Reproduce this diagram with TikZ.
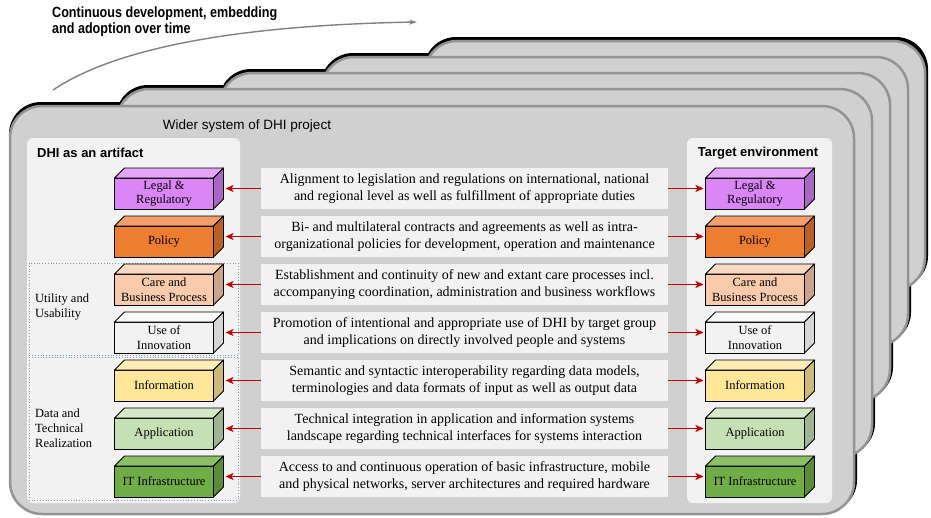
\documentclass[tikz,border=0pt]{standalone}
\usepackage{fontspec}
\setmainfont{Liberation Serif}
\setsansfont{Liberation Sans}
\newfontfamily\topfont[FakeStretch=0.85]{Liberation Sans}
\usetikzlibrary{arrows.meta,calc}
\definecolor{layergray}{HTML}{D0D0D0}
\definecolor{edgegray}{HTML}{949494}
\definecolor{panelc}{HTML}{F2F2F2}
\definecolor{arrowred}{HTML}{C00000}
\definecolor{grpc}{HTML}{8497B0}
\definecolor{legalF}{RGB}{218,134,246}
\definecolor{legalT}{RGB}{229,164,250}
\definecolor{legalS}{RGB}{170,102,196}
\definecolor{policyF}{HTML}{ED7D31}
\definecolor{policyT}{HTML}{F1A06B}
\definecolor{policyS}{HTML}{BA6226}
\definecolor{careF}{HTML}{F8CBAD}
\definecolor{careT}{HTML}{FAD8C2}
\definecolor{careS}{HTML}{C9A38B}
\definecolor{useF}{HTML}{F2F2F2}
\definecolor{useT}{HTML}{FAFAFA}
\definecolor{useS}{HTML}{D6D6D6}
\definecolor{infoF}{HTML}{FFE699}
\definecolor{infoT}{HTML}{FFEDB5}
\definecolor{infoS}{HTML}{CDB97A}
\definecolor{appF}{HTML}{C5E0B4}
\definecolor{appT}{HTML}{D5E9C8}
\definecolor{appS}{HTML}{A0B594}
\definecolor{itF}{HTML}{70AD47}
\definecolor{itT}{HTML}{8CC068}
\definecolor{itS}{HTML}{5A8C39}
\tikzset{
  cubefront/.style={draw=black, line width=0.8pt, minimum width=99pt, minimum height=31pt,
    inner sep=0pt, outer sep=0pt, align=center, font=\fontsize{12.5}{14.5}\selectfont},
  cubeedge/.style={draw=black, line width=0.8pt, line join=round},
  tbox/.style={fill=panelc, minimum width=407pt, minimum height=41pt, inner sep=0pt,
    outer sep=0pt, align=center, font=\fontsize{14}{17}\selectfont},
  redarrow/.style={draw=arrowred, line width=1.5pt, -{Stealth[length=8pt,width=7pt,inset=2pt]}, shorten >=2pt},
  grp/.style={draw=grpc, dotted, line width=0.8pt},
  lab/.style={anchor=west, align=left, inner sep=0pt, font=\fontsize{12.5}{15}\selectfont},
  ptitle/.style={inner sep=0pt, font=\sffamily\bfseries\fontsize{13}{15}\selectfont}
}
\newcommand\mycube[7]{%
  \node[cubefront, fill=#4] (#1) at (#2,#3) {#7};
  \draw[cubeedge, fill=#5] (#1.north west) -- ++(10,-10) -- ++(99,0) -- (#1.north east) -- cycle;
  \draw[cubeedge, fill=#6] (#1.north east) -- ++(10,-10) -- ++(0,31) -- (#1.south east) -- cycle;
}
\begin{document}
\begin{tikzpicture}[x=1pt,y=-1pt]
\useasboundingbox (0,0) rectangle (931,517);
% stacked layers: shadow first
\foreach \a/\b/\c/\d in {425/41/925/290, 322/57/908/346, 220/73/890/401, 117/89/872/457, 10/106/854/514}{
  \fill[black, rounded corners=32pt] (\a-1,\b-4) rectangle (\c+3,\d-2);
}
\foreach \a/\b/\c/\d in {425/41/925/290, 322/57/908/346, 220/73/890/401, 117/89/872/457, 10/106/854/514}{
  \filldraw[fill=layergray, draw=edgegray, line width=2.5pt, rounded corners=32pt] (\a,\b) rectangle (\c,\d);
}
% time arrow
\coordinate (as) at (53,90);
\coordinate (ae) at (417,22);
\draw[draw=gray, line width=1.4pt, -{Stealth[length=8pt,width=5pt]}] (as) .. controls (120,45) and (250,25) .. (ae);
\node[anchor=north west, align=left, inner sep=0pt, font=\topfont\bfseries\fontsize{14.8}{16}\selectfont] (ttl) at (52,7)
  {Continuous development, embedding\\and adoption over time};
% panels
\fill[panelc, rounded corners=6pt] (27,138) rectangle (240,503);
\fill[panelc, rounded corners=6pt] (687,138) rectangle (832,503);
\node[inner sep=0pt, font=\sffamily\fontsize{13.5}{16}\selectfont] (wider) at (247,126) {Wider system of DHI project};
\node[ptitle, anchor=west] (art) at (37,153) {DHI as an artifact};
\node[ptitle] (tenv) at (758,153) {Target environment};
% groups
\draw[grp] (29,263) rectangle (238,355);
\draw[grp] (29,357) rectangle (238,500);
\node[lab] (uu) at (35,307.5) {Utility and\\Usability};
\node[lab] (dtr) at (35,428) {Data and\\Technical\\Realization};
% cubes left
\mycube{l1}{164}{193.5}{legalF}{legalT}{legalS}{Legal \&\\Regulatory}
\mycube{l2}{164}{241.5}{policyF}{policyT}{policyS}{Policy}
\mycube{l3}{164}{289.5}{careF}{careT}{careS}{Care and\\Business Process}
\mycube{l4}{164}{337.5}{useF}{useT}{useS}{Use of\\Innovation}
\mycube{l5}{164}{385.5}{infoF}{infoT}{infoS}{Information}
\mycube{l6}{164}{433.5}{appF}{appT}{appS}{Application}
\mycube{l7}{164}{481.5}{itF}{itT}{itS}{IT Infrastructure}
% cubes right
\mycube{r1}{755}{193.5}{legalF}{legalT}{legalS}{Legal \&\\Regulatory}
\mycube{r2}{755}{241.5}{policyF}{policyT}{policyS}{Policy}
\mycube{r3}{755}{289.5}{careF}{careT}{careS}{Care and\\Business Process}
\mycube{r4}{755}{337.5}{useF}{useT}{useS}{Use of\\Innovation}
\mycube{r5}{755}{385.5}{infoF}{infoT}{infoS}{Information}
\mycube{r6}{755}{433.5}{appF}{appT}{appS}{Application}
\mycube{r7}{755}{481.5}{itF}{itT}{itS}{IT Infrastructure}
% text boxes
\node[tbox] (t1) at (464.5,188.5) {Alignment to legislation and regulations on international, national\\and regional level as well as fulfillment of appropriate duties};
\node[tbox] (t2) at (464.5,236.5) {Bi- and multilateral contracts and agreements as well as intra-\\organizational policies for development, operation and maintenance};
\node[tbox] (t3) at (464.5,284.5) {Establishment and continuity of new and extant care processes incl.\\accompanying coordination, administration and business workflows};
\node[tbox] (t4) at (464.5,332.5) {Promotion of intentional and appropriate use of DHI by target group\\and implications on directly involved people and systems};
\node[tbox] (t5) at (464.5,380.5) {Semantic and syntactic interoperability regarding data models,\\terminologies and data formats of input as well as output data};
\node[tbox] (t6) at (464.5,428.5) {Technical integration in application and information systems\\landscape regarding technical interfaces for systems interaction};
\node[tbox] (t7) at (464.5,476.5) {Access to and continuous operation of basic infrastructure, mobile\\and physical networks, server architectures and required hardware};
% arrows
\foreach \i in {1,...,7}{
  \coordinate (ls\i) at ($(l\i.east)+(10,-5)$);
  \draw[redarrow] (t\i.west) -- (ls\i);
  \draw[redarrow] (t\i.east) -- (t\i.east -| r\i.west);
}
\end{tikzpicture}
\end{document}
